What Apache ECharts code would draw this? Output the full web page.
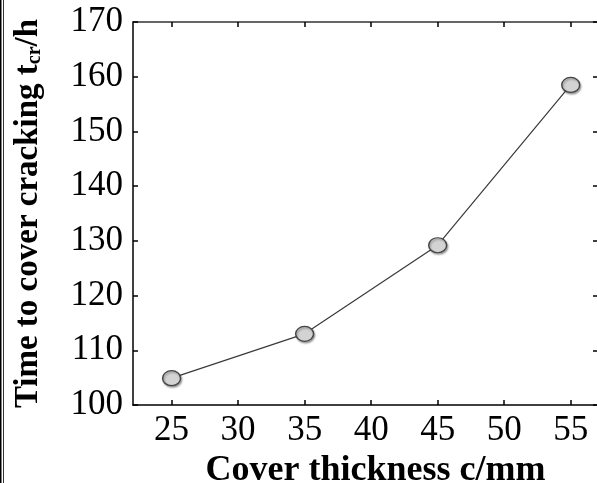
<!DOCTYPE html>
<html>
<head>
<meta charset="utf-8">
<script src="https://cdn.jsdelivr.net/npm/echarts@6/dist/echarts.min.js"></script>
<style>
  html, body { margin: 0; padding: 0; background: #fff; }
  #chart { width: 597px; height: 483px; }
</style>
</head>
<body>
<div id="chart"></div>
<script>
// data
var thickness = [25, 35, 45, 55];
var crackTime = [104.9, 113.0, 129.2, 158.5];
var xTicks = [25, 30, 35, 40, 45, 50, 55];
var yTicks = [100, 110, 120, 130, 140, 150, 160, 170];

var chart = echarts.init(document.getElementById('chart'));
var serif = '"Liberation Serif", "Times New Roman", serif';

var lineStyle = { color: '#000', width: 1.5 };

var option = {
    animation: false,
    grid: { left: 133, top: 22, width: 465, height: 383, outerBoundsMode: 'none', containLabel: false },
    xAxis: [{
        type: 'value',
        position: 'bottom',
        min: 22.1,
        max: 57.05,
        axisLine: { show: true, lineStyle: lineStyle },
        axisTick: { show: true, inside: true, length: 5, lineStyle: lineStyle, customValues: xTicks },
        axisLabel: { margin: 8, fontFamily: serif, fontSize: 35, color: '#000', customValues: xTicks },
        splitLine: { show: false },
        name: 'Cover thickness c/mm',
        nameLocation: 'middle',
        nameGap: 44,
        nameTextStyle: { fontFamily: serif, fontSize: 36, fontWeight: 'bold', color: '#000', padding: [0, 0, 0, 20] }
    }, {
        type: 'value',
        position: 'top',
        min: 22.1,
        max: 57.05,
        axisLine: { show: true, lineStyle: { color: '#333', width: 1.5 } },
        axisTick: { show: true, inside: true, length: 5, lineStyle: lineStyle, customValues: xTicks },
        axisLabel: { show: false },
        splitLine: { show: false }
    }],
    yAxis: [{
        type: 'value',
        position: 'left',
        min: 100,
        max: 170,
        interval: 10,
        axisLine: { show: true, lineStyle: lineStyle },
        axisTick: { show: true, inside: true, length: 5, lineStyle: lineStyle, customValues: yTicks },
        axisLabel: { margin: 10, fontFamily: serif, fontSize: 35, color: '#000', customValues: yTicks },
        splitLine: { show: false },
        name: 'Time to cover cracking t{sub|cr}/h',
        nameLocation: 'middle',
        nameGap: 88,
        nameTextStyle: {
            fontFamily: serif, fontSize: 33, fontWeight: 'bold', color: '#000',
            rich: {
                sub: { fontFamily: serif, fontSize: 20, fontWeight: 'bold', color: '#000', verticalAlign: 'bottom', padding: [14, 0, 0, 0] }
            }
        }
    }, {
        type: 'value',
        position: 'right',
        min: 100,
        max: 170,
        interval: 10,
        axisLine: { show: true, lineStyle: lineStyle },
        axisTick: { show: true, inside: true, length: 5, lineStyle: lineStyle },
        axisLabel: { show: false },
        splitLine: { show: false }
    }],
    graphic: [
        { type: 'line', shape: { x1: 0.5, y1: 0, x2: 0.5, y2: 483 }, style: { stroke: '#000', lineWidth: 2 } },
        { type: 'line', shape: { x1: 3.5, y1: 0, x2: 3.5, y2: 483 }, style: { stroke: '#333', lineWidth: 1 } }
    ],
    series: [{
        type: 'line',
        data: thickness.map(function (t, i) { return [t, crackTime[i]]; }),
        symbol: 'circle',
        symbolSize: [18, 15],
        lineStyle: { color: '#3a3a3a', width: 1.2 },
        itemStyle: {
            color: '#d3d3d3',
            borderColor: '#444',
            borderWidth: 1.3,
            shadowColor: 'rgba(0,0,0,0.35)',
            shadowBlur: 2,
            shadowOffsetX: 1,
            shadowOffsetY: 1.5
        },
        z: 3
    }]
};

chart.setOption(option);
</script>
</body>
</html>
